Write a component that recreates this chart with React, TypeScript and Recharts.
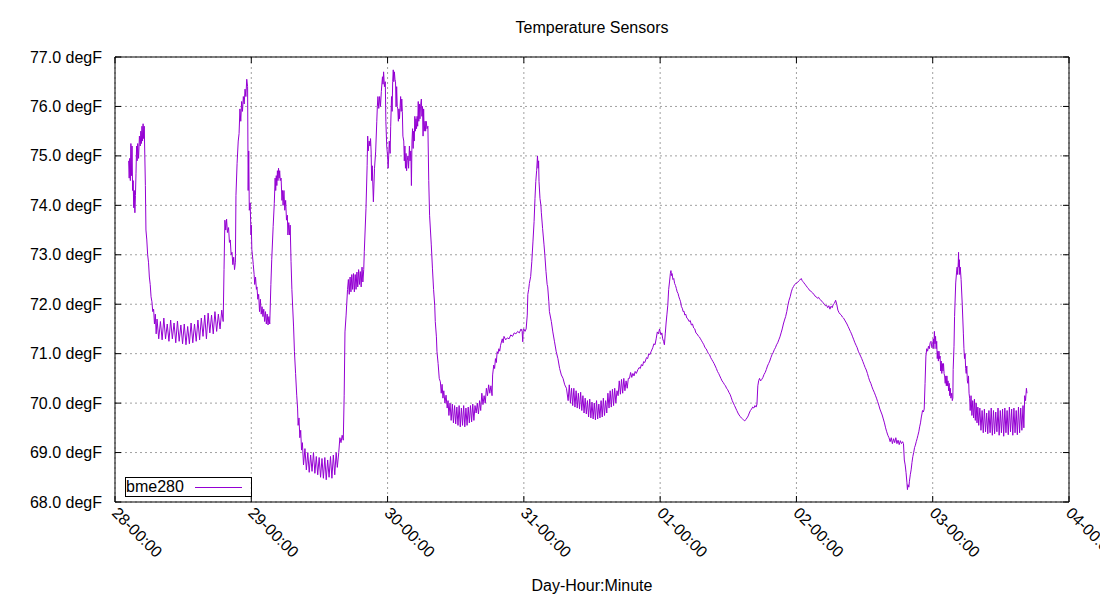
import { LineChart, Line, XAxis, YAxis, CartesianGrid, ReferenceArea } from 'recharts';

// hour-of-day / degF readings, one array per day
const day28: [number, number][] = [
  [2.4, 74.9], [2.5, 74.55], [2.6, 74.95], [2.7, 74.5], [2.8, 75.25], [2.9, 74.6], [3.0, 75.2], [3.1, 74.3],
  [3.2, 74.5], [3.3, 73.95], [3.4, 74.3], [3.5, 73.85], [3.6, 74.2], [3.7, 74.65], [3.8, 75.2], [3.9, 74.9],
  [4.0, 75.25], [4.15, 74.95], [4.3, 75.4], [4.45, 75.2], [4.55, 75.5], [4.65, 75.25], [4.75, 75.6], [4.85, 75.3],
  [4.95, 75.65], [5.05, 75.35], [5.15, 75.6], [5.25, 75.0], [5.35, 74.4], [5.45, 73.5], [5.6, 73.3], [5.75, 73.0],
  [5.9, 72.85], [6.05, 72.55], [6.2, 72.4], [6.35, 72.15], [6.5, 72.05], [6.65, 71.85], [6.8, 71.9], [6.95, 71.6],
  [7.1, 71.8], [7.25, 71.4], [7.4, 71.7], [7.7, 71.3], [8.0, 71.65], [8.3, 71.28], [8.6, 71.72], [8.9, 71.3],
  [9.2, 71.6], [9.5, 71.25], [9.8, 71.68], [10.1, 71.3], [10.4, 71.62], [10.7, 71.22], [11.0, 71.66], [11.3, 71.25],
  [11.6, 71.58], [11.9, 71.2], [12.2, 71.6], [12.5, 71.18], [12.8, 71.55], [13.1, 71.2], [13.4, 71.62], [13.7, 71.22],
  [14.0, 71.6], [14.3, 71.25], [14.6, 71.68], [14.9, 71.28], [15.2, 71.72], [15.5, 71.35], [15.8, 71.78], [16.1, 71.3],
  [16.4, 71.82], [16.7, 71.42], [17.0, 71.78], [17.3, 71.4], [17.6, 71.85], [17.9, 71.45], [18.2, 71.8], [18.5, 71.5],
  [18.8, 71.88], [19.05, 71.65], [19.2, 72.7], [19.35, 73.7], [19.5, 73.5], [19.65, 73.72], [19.8, 73.45], [20.0, 73.55],
  [20.15, 73.25], [20.3, 73.3], [20.45, 73.0], [20.6, 73.05], [20.75, 72.8], [20.9, 72.95], [21.05, 72.7], [21.2, 72.85],
  [21.3, 74.2], [21.5, 74.85], [21.7, 75.3], [21.85, 75.45], [22.0, 75.95], [22.15, 75.7], [22.3, 76.1], [22.45, 75.9],
  [22.6, 76.2], [22.75, 76.05], [22.9, 76.35], [23.05, 76.2], [23.2, 76.55], [23.35, 76.4], [23.45, 74.3], [23.55, 75.1],
  [23.65, 73.9], [23.8, 74.05], [23.95, 73.4],
];

const day29: [number, number][] = [
  [0.0, 73.6], [0.1, 73.1], [0.2, 73.0], [0.35, 72.8], [0.5, 72.6], [0.6, 72.4], [0.75, 72.55], [0.9, 72.3],
  [1.0, 72.35], [1.15, 72.1], [1.3, 72.2], [1.45, 71.85], [1.6, 72.1], [1.75, 71.8], [1.9, 71.95], [2.05, 71.75],
  [2.2, 71.9], [2.35, 71.65], [2.5, 71.85], [2.65, 71.6], [2.8, 71.8], [2.95, 71.58], [3.1, 71.75], [3.25, 71.6],
  [3.45, 72.4], [3.6, 72.9], [3.85, 73.57], [4.05, 74.04], [4.2, 74.55], [4.3, 74.3], [4.4, 74.6], [4.5, 74.4],
  [4.6, 74.7], [4.7, 74.5], [4.8, 74.75], [4.9, 74.55], [5.0, 74.7], [5.1, 74.5], [5.25, 74.55], [5.4, 74.1],
  [5.5, 74.3], [5.6, 74.0], [5.75, 74.3], [5.9, 73.9], [6.05, 74.1], [6.2, 73.7], [6.35, 73.8], [6.45, 73.4],
  [6.6, 73.65], [6.75, 73.4], [6.85, 73.6], [7.0, 72.86], [7.15, 72.3], [7.45, 71.54], [7.6, 71.04], [7.8, 70.6],
  [8.0, 70.16], [8.15, 69.9], [8.25, 69.55], [8.4, 69.7], [8.55, 69.3], [8.7, 69.45], [8.85, 69.05], [9.0, 69.2],
  [9.2, 68.75], [9.45, 69.08], [9.7, 68.65], [9.95, 69.0], [10.2, 68.6], [10.45, 68.95], [10.7, 68.62], [10.95, 69.0],
  [11.2, 68.58], [11.45, 68.92], [11.7, 68.55], [11.95, 68.9], [12.2, 68.5], [12.45, 68.88], [12.7, 68.48], [12.95, 68.9],
  [13.2, 68.45], [13.45, 68.85], [13.7, 68.5], [13.95, 68.92], [14.2, 68.48], [14.45, 68.95], [14.7, 68.55], [14.95, 69.0],
  [15.15, 68.7], [15.4, 69.0], [15.6, 69.3], [15.8, 69.2], [16.0, 69.35], [16.2, 69.25], [16.36, 70.16], [16.5, 71.44],
  [16.7, 71.78], [16.95, 72.3], [17.1, 72.5], [17.25, 72.2], [17.4, 72.55], [17.55, 72.25], [17.7, 72.6], [17.85, 72.3],
  [18.0, 72.62], [18.15, 72.25], [18.3, 72.6], [18.45, 72.3], [18.6, 72.65], [18.75, 72.35], [18.9, 72.7], [19.05, 72.4],
  [19.2, 72.66], [19.35, 72.35], [19.5, 72.75], [19.65, 72.45], [19.8, 72.7], [19.9, 73.06], [20.2, 73.94], [20.4, 74.8],
  [20.5, 75.4], [20.6, 75.1], [20.75, 75.3], [20.9, 75.2], [21.0, 75.35], [21.1, 75.1], [21.2, 74.5], [21.3, 74.8],
  [21.5, 74.07], [21.7, 74.75], [21.9, 75.08], [22.1, 75.7], [22.2, 76.0], [22.3, 76.2], [22.45, 75.96], [22.6, 76.2],
  [22.75, 76.0], [22.9, 76.3], [23.1, 76.6], [23.2, 76.45], [23.3, 76.7], [23.45, 76.4], [23.6, 76.5], [23.7, 75.7],
  [23.85, 75.2],
];

const day30: [number, number][] = [
  [0.0, 75.0], [0.1, 74.75], [0.2, 75.0], [0.3, 75.3], [0.45, 75.05], [0.55, 75.6], [0.7, 76.2], [0.8, 75.9],
  [0.9, 76.5], [1.0, 76.74], [1.1, 76.5], [1.2, 76.7], [1.3, 76.55], [1.4, 76.5], [1.5, 76.0], [1.6, 76.4],
  [1.7, 76.0], [1.8, 75.95], [1.9, 75.7], [2.0, 75.95], [2.1, 75.75], [2.3, 76.2], [2.4, 75.9], [2.5, 76.15],
  [2.6, 75.9], [2.7, 75.4], [2.85, 75.3], [2.95, 74.9], [3.05, 75.2], [3.15, 74.75], [3.25, 75.05], [3.35, 74.7],
  [3.45, 74.9], [3.6, 75.0], [3.7, 74.75], [3.85, 75.2], [3.95, 74.9], [4.1, 75.1], [4.2, 74.4], [4.3, 75.3],
  [4.4, 75.55], [4.5, 75.15], [4.6, 75.5], [4.7, 75.3], [4.8, 75.8], [4.9, 75.5], [5.0, 75.75], [5.1, 75.55],
  [5.2, 75.8], [5.3, 75.6], [5.4, 76.1], [5.5, 75.7], [5.6, 76.05], [5.7, 75.75], [5.8, 76.0], [5.95, 76.15],
  [6.05, 75.8], [6.15, 76.0], [6.25, 75.4], [6.35, 75.95], [6.45, 75.5], [6.6, 75.7], [6.7, 75.5], [6.8, 75.7],
  [6.95, 75.55], [7.1, 75.6], [7.25, 74.5], [7.4, 73.8], [7.7, 73.2], [7.9, 72.73], [8.1, 72.3], [8.3, 71.98],
  [8.4, 71.65], [8.6, 71.34], [8.7, 71.04], [8.9, 70.8], [9.1, 70.5], [9.3, 70.43], [9.45, 70.2], [9.6, 70.38],
  [9.75, 70.1], [9.9, 70.25], [10.1, 70.0], [10.3, 70.16], [10.5, 69.9], [10.65, 70.05], [10.8, 69.75], [11.0, 70.0],
  [11.2, 69.65], [11.4, 69.98], [11.6, 69.6], [11.8, 69.95], [12.0, 69.58], [12.2, 69.92], [12.4, 69.55], [12.6, 69.95],
  [12.8, 69.52], [13.0, 69.9], [13.2, 69.55], [13.4, 69.95], [13.6, 69.52], [13.8, 69.9], [14.0, 69.55], [14.2, 69.92],
  [14.4, 69.6], [14.6, 69.95], [14.8, 69.62], [15.0, 69.98], [15.2, 69.65], [15.4, 69.95], [15.6, 69.8], [15.8, 70.0],
  [16.0, 69.78], [16.2, 70.05], [16.4, 69.85], [16.6, 70.2], [16.8, 69.97], [17.0, 70.15], [17.2, 70.0], [17.4, 70.3],
  [17.6, 70.15], [17.8, 70.37], [18.0, 70.2], [18.2, 70.35], [18.4, 70.15], [18.5, 70.57], [18.7, 70.77], [18.85, 70.7],
  [19.0, 70.9], [19.15, 70.82], [19.3, 71.04], [19.45, 71.0], [19.6, 71.1], [19.75, 71.05], [19.9, 71.17], [20.2, 71.3],
  [20.35, 71.22], [20.5, 71.35], [20.8, 71.28], [21.1, 71.32], [21.4, 71.3], [21.7, 71.38], [22.0, 71.35], [22.3, 71.42],
  [22.6, 71.4], [22.9, 71.45], [23.2, 71.42], [23.5, 71.5], [23.7, 71.45], [23.8, 71.24], [23.9, 71.5],
];

const day31: [number, number][] = [
  [0.0, 71.5], [0.2, 71.45], [0.4, 71.5], [0.6, 71.78], [0.7, 72.2], [0.85, 72.3], [0.97, 72.42], [1.2, 72.56],
  [1.4, 72.86], [1.6, 73.26], [1.8, 73.67], [1.96, 74.14], [2.1, 74.48], [2.25, 74.7], [2.4, 75.0], [2.5, 74.75],
  [2.6, 74.9], [2.67, 74.48], [2.84, 74.14], [3.0, 74.0], [3.08, 73.85], [3.3, 73.53], [3.55, 73.2], [3.7, 72.99],
  [3.9, 72.66], [4.1, 72.4], [4.2, 72.35], [4.4, 72.05], [4.5, 71.85], [4.84, 71.65], [5.1, 71.44], [5.4, 71.24],
  [5.7, 71.04], [6.0, 70.9], [6.3, 70.7], [6.6, 70.57], [6.9, 70.5], [7.2, 70.37], [7.5, 70.3], [7.8, 70.05],
  [8.0, 70.37], [8.2, 70.0], [8.4, 70.3], [8.6, 69.95], [8.8, 70.3], [9.0, 69.92], [9.2, 70.25], [9.4, 69.9],
  [9.6, 70.2], [9.8, 69.88], [10.0, 70.22], [10.2, 69.85], [10.4, 70.15], [10.6, 69.8], [10.8, 70.1], [11.0, 69.78],
  [11.2, 70.05], [11.4, 69.72], [11.6, 70.08], [11.8, 69.7], [12.0, 70.02], [12.2, 69.68], [12.4, 70.0], [12.6, 69.66],
  [12.8, 70.05], [13.0, 69.68], [13.2, 69.98], [13.4, 69.7], [13.6, 70.05], [13.8, 69.72], [14.0, 70.1], [14.2, 69.75],
  [14.4, 70.05], [14.6, 69.8], [14.8, 70.2], [15.0, 69.9], [15.2, 70.25], [15.4, 69.92], [15.6, 70.28], [15.8, 69.95],
  [16.0, 70.3], [16.2, 70.0], [16.4, 70.25], [16.6, 70.15], [16.8, 70.45], [17.0, 70.18], [17.2, 70.48], [17.4, 70.2],
  [17.6, 70.5], [17.8, 70.25], [18.0, 70.45], [18.2, 70.3], [18.4, 70.5], [18.6, 70.5], [18.8, 70.62], [19.0, 70.52],
  [19.2, 70.6], [19.4, 70.55], [19.6, 70.64], [19.8, 70.6], [20.1, 70.68], [20.3, 70.72], [20.5, 70.7], [20.7, 70.78],
  [20.9, 70.75], [21.1, 70.84], [21.3, 70.82], [21.6, 70.92], [21.8, 70.9], [22.0, 71.0], [22.2, 70.98], [22.4, 71.04],
  [22.7, 71.12], [22.9, 71.2], [23.1, 71.18], [23.3, 71.3], [23.5, 71.44], [23.7, 71.4], [23.9, 71.5],
];

const day01: [number, number][] = [
  [0.0, 71.45], [0.15, 71.38], [0.3, 71.42], [0.45, 71.3], [0.6, 71.25], [0.75, 71.18], [0.9, 71.4], [1.05, 71.62],
  [1.2, 71.8], [1.35, 71.98], [1.5, 72.3], [1.65, 72.45], [1.8, 72.62], [1.9, 72.68], [2.0, 72.58], [2.1, 72.62],
  [2.25, 72.5], [2.4, 72.52], [2.55, 72.42], [2.7, 72.38], [2.85, 72.32], [3.0, 72.25], [3.15, 72.22], [3.3, 72.15],
  [3.45, 72.1], [3.6, 72.05], [3.75, 71.95], [3.9, 71.92], [4.05, 71.85], [4.2, 71.86], [4.35, 71.78], [4.5, 71.8],
  [4.7, 71.72], [4.9, 71.7], [5.1, 71.65], [5.3, 71.67], [5.5, 71.58], [5.7, 71.6], [5.9, 71.52], [6.1, 71.5],
  [6.3, 71.42], [6.5, 71.4], [6.7, 71.36], [6.9, 71.34], [7.1, 71.3], [7.3, 71.26], [7.5, 71.22], [7.7, 71.18],
  [7.9, 71.12], [8.1, 71.1], [8.3, 71.05], [8.5, 71.0], [8.7, 70.98], [8.9, 70.92], [9.1, 70.88], [9.3, 70.84],
  [9.5, 70.8], [9.7, 70.75], [9.9, 70.7], [10.1, 70.64], [10.3, 70.6], [10.5, 70.55], [10.7, 70.5], [10.9, 70.45],
  [11.1, 70.42], [11.3, 70.38], [11.5, 70.35], [11.7, 70.3], [11.9, 70.27], [12.1, 70.22], [12.3, 70.18], [12.5, 70.12],
  [12.7, 70.05], [12.9, 70.0], [13.1, 69.95], [13.3, 69.9], [13.5, 69.85], [13.7, 69.8], [13.9, 69.76], [14.1, 69.73],
  [14.3, 69.7], [14.5, 69.68], [14.7, 69.66], [14.9, 69.64], [15.1, 69.67], [15.3, 69.7], [15.5, 69.74], [15.7, 69.8],
  [15.9, 69.85], [16.1, 69.88], [16.3, 69.92], [16.5, 69.9], [16.7, 69.95], [16.9, 69.92], [17.05, 69.98], [17.2, 70.35],
  [17.35, 70.45], [17.5, 70.5], [17.7, 70.45], [17.9, 70.48], [18.1, 70.52], [18.3, 70.58], [18.5, 70.62], [18.7, 70.68],
  [18.9, 70.75], [19.1, 70.8], [19.3, 70.85], [19.5, 70.92], [19.7, 70.98], [19.9, 71.02], [20.1, 71.08], [20.3, 71.12],
  [20.5, 71.18], [20.7, 71.22], [20.9, 71.28], [21.1, 71.34], [21.3, 71.42], [21.5, 71.5], [21.7, 71.6], [21.9, 71.68],
  [22.1, 71.75], [22.3, 71.85], [22.5, 71.98], [22.7, 72.08], [22.9, 72.15], [23.1, 72.25], [23.3, 72.32], [23.5, 72.36],
  [23.7, 72.4], [23.9, 72.42],
];

const day02: [number, number][] = [
  [0.0, 72.42], [0.2, 72.44], [0.4, 72.47], [0.6, 72.49], [0.85, 72.52], [1.0, 72.48], [1.1, 72.46], [1.3, 72.44],
  [1.5, 72.4], [1.7, 72.38], [1.9, 72.34], [2.1, 72.32], [2.3, 72.28], [2.5, 72.27], [2.7, 72.24], [2.9, 72.22],
  [3.1, 72.2], [3.3, 72.16], [3.5, 72.15], [3.7, 72.12], [3.9, 72.14], [4.1, 72.1], [4.3, 72.08], [4.5, 72.06],
  [4.7, 72.03], [4.9, 72.0], [5.1, 71.97], [5.3, 71.98], [5.5, 71.93], [5.7, 71.97], [5.9, 71.9], [6.1, 71.96],
  [6.3, 71.93], [6.5, 72.0], [6.7, 72.02], [6.9, 72.08], [7.1, 72.0], [7.3, 71.88], [7.5, 71.83], [7.7, 71.8],
  [7.9, 71.78], [8.1, 71.74], [8.3, 71.72], [8.5, 71.68], [8.7, 71.64], [8.9, 71.6], [9.1, 71.55], [9.3, 71.5],
  [9.5, 71.45], [9.7, 71.4], [9.9, 71.34], [10.1, 71.28], [10.3, 71.22], [10.5, 71.17], [10.7, 71.12], [10.9, 71.05],
  [11.1, 71.0], [11.3, 70.95], [11.5, 70.9], [11.7, 70.84], [11.9, 70.78], [12.1, 70.72], [12.3, 70.67], [12.5, 70.6],
  [12.7, 70.52], [12.9, 70.45], [13.1, 70.4], [13.3, 70.33], [13.5, 70.27], [13.7, 70.22], [13.9, 70.16], [14.1, 70.1],
  [14.3, 70.03], [14.5, 69.96], [14.7, 69.88], [14.9, 69.82], [15.1, 69.76], [15.3, 69.68], [15.5, 69.6], [15.7, 69.5],
  [15.9, 69.42], [16.1, 69.35], [16.3, 69.3], [16.5, 69.22], [16.7, 69.3], [16.9, 69.18], [17.1, 69.28], [17.3, 69.2],
  [17.5, 69.3], [17.7, 69.18], [17.9, 69.25], [18.1, 69.16], [18.3, 69.24], [18.5, 69.18], [18.7, 69.22], [18.85, 69.18],
  [19.0, 68.85], [19.15, 68.75], [19.3, 68.6], [19.45, 68.4], [19.55, 68.25], [19.65, 68.35], [19.8, 68.3], [19.9, 68.42],
  [20.05, 68.55], [20.2, 68.65], [20.35, 68.8], [20.5, 68.92], [20.65, 69.0], [20.8, 69.1], [20.95, 69.15], [21.1, 69.22],
  [21.25, 69.28], [21.4, 69.35], [21.55, 69.42], [21.7, 69.52], [21.85, 69.6], [22.0, 69.72], [22.1, 69.78], [22.2, 69.85],
  [22.35, 69.82], [22.5, 69.88], [22.65, 70.4], [22.8, 70.95], [22.95, 71.1], [23.1, 71.05], [23.25, 71.15], [23.4, 71.1],
  [23.55, 71.22], [23.7, 71.25], [23.85, 71.12],
];

const day03: [number, number][] = [
  [0.0, 71.15], [0.1, 71.3], [0.2, 71.1], [0.3, 71.45], [0.4, 71.2], [0.5, 71.35], [0.6, 71.1], [0.7, 71.25],
  [0.8, 70.9], [0.9, 71.05], [1.0, 70.85], [1.1, 71.05], [1.2, 70.9], [1.3, 70.95], [1.4, 70.65], [1.5, 70.85],
  [1.6, 70.6], [1.7, 70.8], [1.8, 70.65], [1.9, 70.8], [2.0, 70.6], [2.1, 70.55], [2.2, 70.4], [2.3, 70.55],
  [2.4, 70.35], [2.5, 70.55], [2.6, 70.35], [2.7, 70.45], [2.8, 70.25], [2.9, 70.4], [3.0, 70.15], [3.1, 70.3],
  [3.2, 70.1], [3.35, 70.2], [3.45, 70.05], [3.55, 70.1], [3.6, 70.68], [3.75, 71.15], [3.85, 71.75], [4.05, 72.43],
  [4.2, 72.65], [4.3, 72.75], [4.4, 72.6], [4.5, 72.85], [4.55, 73.05], [4.6, 72.75], [4.7, 72.9], [4.75, 72.6],
  [4.85, 72.75], [5.0, 72.5], [5.2, 72.0], [5.4, 71.4], [5.5, 71.1], [5.6, 70.9], [5.7, 71.0], [5.8, 70.7],
  [5.9, 70.6], [6.0, 70.75], [6.1, 70.45], [6.2, 70.4], [6.3, 70.55], [6.4, 70.2], [6.5, 70.1], [6.6, 69.85],
  [6.75, 70.15], [6.9, 69.75], [7.05, 70.05], [7.2, 69.7], [7.35, 70.08], [7.5, 69.65], [7.65, 70.0], [7.8, 69.6],
  [7.95, 69.92], [8.1, 69.55], [8.3, 69.9], [8.5, 69.45], [8.7, 69.85], [8.9, 69.4], [9.1, 69.88], [9.3, 69.42],
  [9.5, 69.8], [9.7, 69.38], [9.9, 69.85], [10.1, 69.4], [10.3, 69.9], [10.5, 69.35], [10.7, 69.85], [10.9, 69.38],
  [11.1, 69.82], [11.3, 69.42], [11.5, 69.9], [11.7, 69.35], [11.9, 69.85], [12.1, 69.4], [12.3, 69.88], [12.5, 69.33],
  [12.7, 69.9], [12.9, 69.4], [13.1, 69.85], [13.3, 69.36], [13.5, 69.92], [13.7, 69.42], [13.9, 69.88], [14.1, 69.35],
  [14.3, 69.9], [14.5, 69.4], [14.7, 69.85], [14.9, 69.36], [15.1, 69.92], [15.3, 69.4], [15.5, 69.9], [15.7, 69.45],
  [15.9, 69.95], [16.05, 69.5], [16.2, 70.15], [16.35, 70.05], [16.5, 70.3], [16.6, 70.2],
];

const dayLabels = ['28-00:00', '29-00:00', '30-00:00', '31-00:00', '01-00:00', '02-00:00', '03-00:00', '04-00:00'];
const tempTicks = [68, 69, 70, 71, 72, 73, 74, 75, 76, 77];

const days = [day28, day29, day30, day31, day01, day02, day03];
const data = days.flatMap((d, i) => d.map(([h, v]) => ({ t: i * 24 + h, temp: v })));
const hourTicks = dayLabels.map((_, i) => i * 24);

const W = 1100;
const H = 600;
const LEFT = 115;
const RIGHT = 1069;
const TOP = 57;
const BOTTOM = 502;
const FONT = '"Liberation Sans", Arial, sans-serif';
const PURPLE = '#9400d3';

function YTick({ y, payload }: any) {
  return (
    <g>
      <line x1={LEFT} x2={LEFT + 6} y1={y} y2={y} stroke="#000" />
      <line x1={RIGHT - 6} x2={RIGHT} y1={y} y2={y} stroke="#000" />
      <text x={LEFT - 13} y={y} dy="0.35em" textAnchor="end" fill="#000" fontSize={16} fontFamily={FONT}>
        {payload.value.toFixed(1)} degF
      </text>
    </g>
  );
}

function XTick({ x, payload, index }: any) {
  const tx = x - 4;
  const ty = BOTTOM + 12;
  return (
    <g>
      <line x1={x} x2={x} y1={BOTTOM} y2={BOTTOM - 6} stroke="#000" />
      <line x1={x} x2={x} y1={TOP} y2={TOP + 6} stroke="#000" />
      <text x={tx} y={ty} transform={`rotate(45 ${tx} ${ty})`} textAnchor="start" fill="#000" fontSize={16} fontFamily={FONT}>
        {dayLabels[index] ?? String(payload.value)}
      </text>
    </g>
  );
}

export default function App() {
  return (
    <div style={{ position: 'absolute', left: 0, top: 0, width: W, height: H, background: '#fff', fontFamily: FONT, overflow: 'hidden' }}>
      <LineChart width={W} height={H} data={data} margin={{ top: TOP, right: W - RIGHT, bottom: 0, left: 0 }}>
        <CartesianGrid stroke="#a0a0a0" strokeDasharray="2 3" />
        <XAxis
          dataKey="t"
          type="number"
          domain={[0, 168]}
          ticks={hourTicks}
          interval={0}
          height={H - BOTTOM}
          axisLine={false}
          tickLine={false}
          tick={<XTick />}
        />
        <YAxis
          type="number"
          domain={[68, 77]}
          ticks={tempTicks}
          interval={0}
          width={LEFT}
          axisLine={false}
          tickLine={false}
          tick={<YTick />}
          allowDataOverflow
        />
        <ReferenceArea x1={0} x2={168} y1={68} y2={77} fill="none" stroke="#000" strokeWidth={1} fillOpacity={0} />
        <Line type="linear" dataKey="temp" stroke={PURPLE} strokeWidth={1} dot={false} isAnimationActive={false} />
      </LineChart>
      <svg width={W} height={H} style={{ position: 'absolute', left: 0, top: 0, pointerEvents: 'none' }}>
        <text x={(LEFT + RIGHT) / 2} y={33} textAnchor="middle" fontSize={16} fill="#000" fontFamily={FONT}>
          Temperature Sensors
        </text>
        <text x={(LEFT + RIGHT) / 2} y={591} textAnchor="middle" fontSize={16} fill="#000" fontFamily={FONT}>
          Day-Hour:Minute
        </text>
        <rect x={125.5} y={477.5} width={126} height={19} fill="none" stroke="#000" />
        <text x={126} y={492} fontSize={16} fill="#000" fontFamily={FONT}>bme280</text>
        <line x1={195} x2={242} y1={487.5} y2={487.5} stroke={PURPLE} />
      </svg>
    </div>
  );
}
